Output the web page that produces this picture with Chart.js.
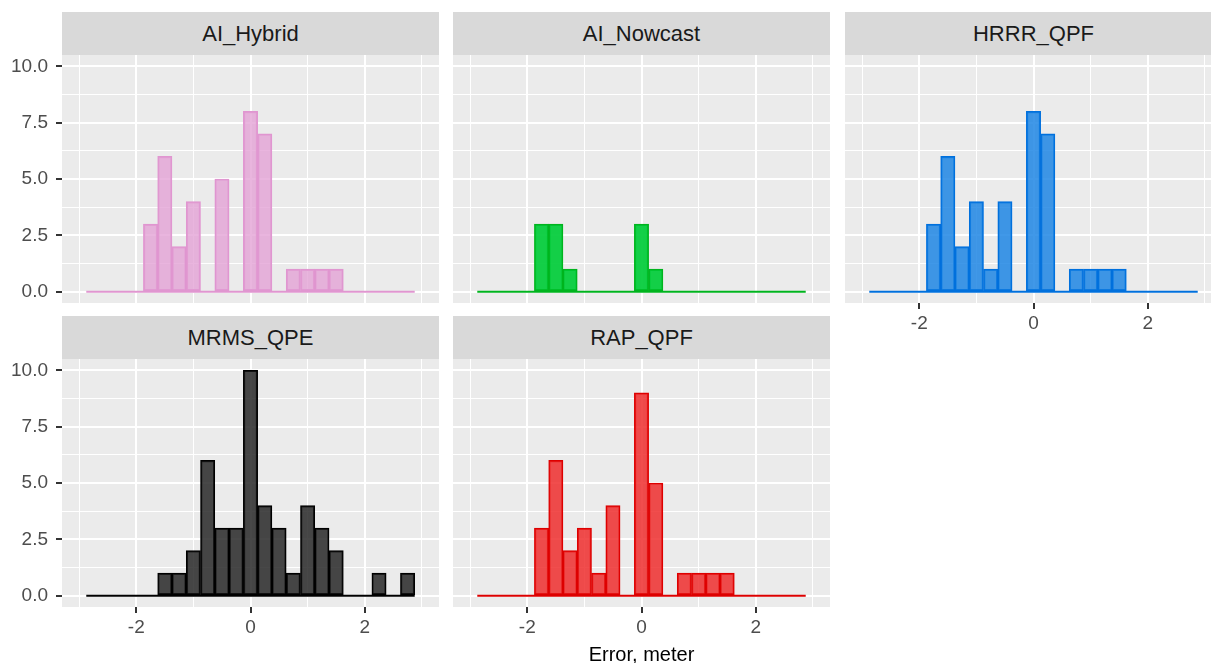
<!DOCTYPE html>
<html>
<head>
<meta charset="utf-8">
<script src="https://cdn.jsdelivr.net/npm/chart.js@4.4.1/dist/chart.umd.min.js"></script>
<style>
  html, body { margin: 0; padding: 0; background: #fff; overflow: hidden; width: 1211px; height: 663px; }
  .box { position: absolute; }
  .strip {
    position: absolute; background: #D9D9D9; color: #1A1A1A;
    font: 22px "Liberation Sans", Arial, sans-serif;
    display: flex; align-items: center; justify-content: center;
  }
</style>
</head>
<body>
<script>
"use strict";

// histogram bins (centre of each 0.25 wide bin)
var binCenters = [-2.75, -2.5, -2.25, -2.0, -1.75, -1.5, -1.25, -1.0, -0.75, -0.5, -0.25, 0,
                  0.25, 0.5, 0.75, 1.0, 1.25, 1.5, 1.75, 2.0, 2.25, 2.5, 2.75];
var binRange = [-2.875, 2.875];

// counts per bin
var aiHybrid  = [0, 0, 0, 0, 3, 6, 2, 4, 0, 5, 0, 8, 7, 0, 1, 1, 1, 1, 0, 0, 0, 0, 0];
var aiNowcast = [0, 0, 0, 0, 3, 3, 1, 0, 0, 0, 0, 3, 1, 0, 0, 0, 0, 0, 0, 0, 0, 0, 0];
var hrrrQpf   = [0, 0, 0, 0, 3, 6, 2, 4, 1, 4, 0, 8, 7, 0, 1, 1, 1, 1, 0, 0, 0, 0, 0];
var mrmsQpe   = [0, 0, 0, 0, 0, 1, 1, 2, 6, 3, 3, 10, 4, 3, 1, 4, 3, 2, 0, 0, 1, 0, 1];
var rapQpf    = [0, 0, 0, 0, 3, 6, 2, 3, 1, 4, 0, 9, 5, 0, 1, 1, 1, 1, 0, 0, 0, 0, 0];

// axes
var yGrid = [0, 1.25, 2.5, 3.75, 5, 6.25, 7.5, 8.75, 10];
var yMajor = [0, 2.5, 5, 7.5, 10];
var yLabels = ["0.0", "2.5", "5.0", "7.5", "10.0"];
var xGrid = [-3, -2, -1, 0, 1, 2, 3];
var xMajor = [-2, 0, 2];
var xLabels = ["-2", "0", "2"];
var xTitle = "Error, meter";

var FONT = '"Liberation Sans", Arial, sans-serif';
var COLS = [62, 453, 845];
var ROWS = [55, 359];
var W = 377, H = 248, STRIP = 43;

var panels = [
  { name: "AI_Hybrid",  counts: aiHybrid,  fill: "rgba(228,162,214,0.8)", line: "#E096D0", col: 0, row: 0, yAxis: true,  xAxis: false },
  { name: "AI_Nowcast", counts: aiNowcast, fill: "rgba(0,204,56,0.92)",   line: "#00B41E", col: 1, row: 0, yAxis: false, xAxis: false },
  { name: "HRRR_QPF",   counts: hrrrQpf,   fill: "rgba(31,134,228,0.85)", line: "#0070DD", col: 2, row: 0, yAxis: false, xAxis: true },
  { name: "MRMS_QPE",   counts: mrmsQpe,   fill: "rgba(40,40,40,0.85)",   line: "#000000", col: 0, row: 1, yAxis: true,  xAxis: true },
  { name: "RAP_QPF",    counts: rapQpf,    fill: "rgba(239,46,46,0.85)",  line: "#DD0000", col: 1, row: 1, yAxis: false, xAxis: true, title: true }
];

var panelBg = {
  id: "panelBg",
  beforeDraw: function (chart) {
    var a = chart.chartArea, ctx = chart.ctx;
    ctx.save();
    ctx.fillStyle = "#EBEBEB";
    ctx.fillRect(a.left, a.top, a.right - a.left, a.bottom - a.top);
    ctx.restore();
  }
};

function isIn(list, v) {
  for (var i = 0; i < list.length; i++) if (Math.abs(list[i] - v) < 1e-9) return i;
  return -1;
}

panels.forEach(function (p) {
  var L = p.yAxis ? 62 : 0;
  var T = 20, R = 4;
  var bottom = ROWS[p.row] + H;
  var B = p.title ? 663 - bottom : (p.xAxis ? 40 : 24);
  var left = COLS[p.col], top = ROWS[p.row];

  var strip = document.createElement("div");
  strip.className = "strip";
  strip.style.left = left + "px";
  strip.style.top = (top - STRIP) + "px";
  strip.style.width = W + "px";
  strip.style.height = STRIP + "px";
  strip.textContent = p.name;
  document.body.appendChild(strip);

  var box = document.createElement("div");
  box.className = "box";
  box.style.left = (left - L) + "px";
  box.style.top = (top - T) + "px";
  box.style.width = (L + W + R) + "px";
  box.style.height = (T + H + B) + "px";
  var canvas = document.createElement("canvas");
  box.appendChild(canvas);
  document.body.appendChild(box);

  var bars = binCenters.map(function (x, i) { return { x: x, y: p.counts[i] }; });
  var base = binRange.map(function (x) { return { x: x, y: 0 }; });

  new Chart(canvas.getContext("2d"), {
    type: "bar",
    data: {
      datasets: [
        {
          data: bars,
          backgroundColor: p.fill,
          borderColor: p.line,
          borderWidth: 1.5,
          borderSkipped: false,
          barPercentage: 1,
          categoryPercentage: 1,
          grouped: false
        },
        {
          type: "line",
          data: base,
          borderColor: p.line,
          borderWidth: 2,
          pointRadius: 0,
          fill: false
        }
      ]
    },
    options: {
      responsive: true,
      maintainAspectRatio: false,
      animation: false,
      layout: { padding: { top: T, right: R, left: 0, bottom: 0 } },
      plugins: { legend: { display: false }, tooltip: { enabled: false } },
      scales: {
        x: {
          type: "linear",
          min: -3.3,
          max: 3.3,
          offset: false,
          afterBuildTicks: function (s) { s.ticks = xGrid.map(function (v) { return { value: v }; }); },
          afterFit: function (s) { s.height = B; },
          border: { display: false },
          grid: {
            offset: false,
            color: "#FFFFFF",
            lineWidth: function (c) { return c.tick && isIn(xMajor, c.tick.value) >= 0 ? 2 : 1; },
            drawTicks: p.xAxis,
            tickLength: 6,
            tickWidth: 2,
            tickColor: function (c) { return c.tick && isIn(xMajor, c.tick.value) >= 0 ? "#333333" : "rgba(0,0,0,0)"; }
          },
          ticks: {
            display: p.xAxis,
            autoSkip: false,
            maxRotation: 0,
            padding: 3,
            color: "#4D4D4D",
            font: { family: FONT, size: 19 },
            callback: function (v) { var i = isIn(xMajor, v); return i < 0 ? "" : xLabels[i]; }
          },
          title: {
            display: !!p.title,
            text: xTitle,
            color: "#000000",
            padding: 0,
            font: { family: FONT, size: 20, lineHeight: 0.8 }
          }
        },
        y: {
          type: "linear",
          min: -0.5,
          max: 10.5,
          afterBuildTicks: function (s) { s.ticks = yGrid.map(function (v) { return { value: v }; }); },
          afterFit: function (s) { s.width = L; },
          border: { display: false },
          grid: {
            color: "#FFFFFF",
            lineWidth: function (c) { return c.tick && isIn(yMajor, c.tick.value) >= 0 ? 2 : 1; },
            drawTicks: p.yAxis,
            tickLength: 6,
            tickWidth: 2,
            tickColor: function (c) { return c.tick && isIn(yMajor, c.tick.value) >= 0 ? "#333333" : "rgba(0,0,0,0)"; }
          },
          ticks: {
            display: p.yAxis,
            autoSkip: false,
            padding: 8,
            color: "#4D4D4D",
            font: { family: FONT, size: 19 },
            callback: function (v) { var i = isIn(yMajor, v); return i < 0 ? "" : yLabels[i]; }
          }
        }
      }
    },
    plugins: [panelBg]
  });
});
</script>
</body>
</html>
